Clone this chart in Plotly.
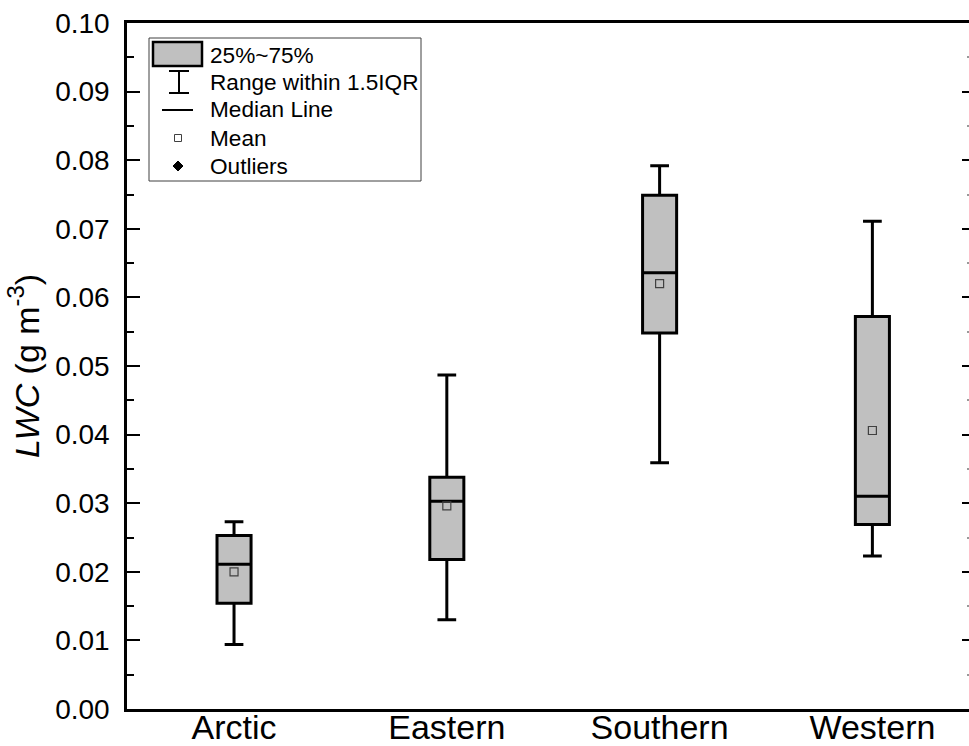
import plotly.graph_objects as go

# ---- data ----
categories = ["Arctic", "Eastern", "Southern", "Western"]
q1_vals = [0.0154, 0.0218, 0.0548, 0.0269]
median_vals = [0.0211, 0.0303, 0.0636, 0.0310]
q3_vals = [0.0253, 0.0338, 0.0749, 0.0572]
lower_whisker = [0.0094, 0.0130, 0.0359, 0.0223]
upper_whisker = [0.0273, 0.0487, 0.0792, 0.0711]
mean_vals = [0.0200, 0.0296, 0.0620, 0.0406]

legend_labels = ["25%~75%", "Range within 1.5IQR", "Median Line", "Mean", "Outliers"]

W, H = 969, 746
ML, MR, MT, MB = 127, 0, 23, 37
PW = W - ML - MR
PH = H - MT - MB
FONT = "Arial, Liberation Sans, sans-serif"
BOXGRAY = "#c0c0c0"

fig = go.Figure()

fig.add_trace(go.Box(
    x=categories,
    q1=q1_vals, median=median_vals, q3=q3_vals,
    lowerfence=lower_whisker, upperfence=upper_whisker,
    boxpoints=False,
    width=0.16,
    whiskerwidth=0.55,
    fillcolor=BOXGRAY,
    line=dict(color="black", width=3),
    showlegend=False,
    name="LWC",
))

fig.add_trace(go.Scatter(
    x=categories, y=mean_vals, mode="markers",
    marker=dict(symbol="square-open", size=8, color="#404040", line=dict(width=1.2)),
    showlegend=False, name="Mean",
))

# invisible helper so the right-hand tick axis is drawn
fig.add_trace(go.Scatter(x=[categories[0]], y=[None], yaxis="y2",
                         showlegend=False, hoverinfo="skip"))

# ---- hand-drawn legend (Origin style) ----
def px(x):
    return (x - ML) / PW

def py(y):
    return (H - MB - y) / PH

shapes = []
annotations = []

shapes.append(dict(type="rect", xref="paper", yref="paper",
                   x0=px(149), x1=px(421), y0=py(181), y1=py(38),
                   line=dict(color="#404040", width=1), fillcolor="white", layer="above"))
shapes.append(dict(type="rect", xref="paper", yref="paper",
                   x0=px(153), x1=px(202), y0=py(66), y1=py(42),
                   line=dict(color="black", width=2.5), fillcolor=BOXGRAY, layer="above"))
for seg in [((179, 71), (179, 93)), ((169, 71), (189, 71)), ((169, 93), (189, 93))]:
    (xa, ya), (xb, yb) = seg
    shapes.append(dict(type="line", xref="paper", yref="paper",
                       x0=px(xa), x1=px(xb), y0=py(ya), y1=py(yb),
                       line=dict(color="black", width=2), layer="above"))
shapes.append(dict(type="line", xref="paper", yref="paper",
                   x0=px(162), x1=px(193), y0=py(110), y1=py(110),
                   line=dict(color="black", width=2), layer="above"))
shapes.append(dict(type="rect", xref="paper", yref="paper",
                   x0=px(174.5), x1=px(181.5), y0=py(141.5), y1=py(134.5),
                   line=dict(color="#404040", width=1), fillcolor="white", layer="above"))
dpath = "M {} {} L {} {} L {} {} L {} {} Z".format(
    px(178), py(161), px(183), py(166), px(178), py(171), px(173), py(166))
shapes.append(dict(type="path", xref="paper", yref="paper", path=dpath,
                   line=dict(color="black", width=1), fillcolor="black", layer="above"))

text_y = [55, 82, 110, 138, 166]
for lab, ty in zip(legend_labels, text_y):
    annotations.append(dict(text=lab, xref="paper", yref="paper",
                            x=px(208), y=py(ty), xanchor="left", yanchor="middle",
                            showarrow=False, font=dict(family=FONT, size=22.6, color="black")))

fig.update_layout(
    width=W, height=H,
    margin=dict(l=ML, r=MR, t=MT, b=MB, pad=0),
    paper_bgcolor="white", plot_bgcolor="white",
    font=dict(family=FONT, color="black"),
    showlegend=False,
    shapes=shapes,
    annotations=annotations,
    xaxis=dict(
        type="category",
        range=[-0.503, 3.454],
        showline=True, linecolor="black", linewidth=2.5, mirror=True,
        ticks="", showgrid=False, zeroline=False,
        tickfont=dict(family=FONT, size=34, color="black"),
        ticklabelstandoff=-14,
    ),
    yaxis=dict(
        range=[0, 0.1],
        dtick=0.01, tickformat=".2f",
        showline=True, linecolor="black", linewidth=2.5,
        ticks="inside", ticklen=13, tickwidth=2, tickcolor="black",
        minor=dict(dtick=0.005, ticks="inside", ticklen=7, tickwidth=2, tickcolor="black"),
        showgrid=False, zeroline=False,
        tickfont=dict(family=FONT, size=28, color="black"),
        ticklabelstandoff=9,
        title=dict(text="<i>LWC</i> (g m<sup>-3</sup>)",
                   font=dict(family=FONT, size=34, color="black"), standoff=6),
        automargin=False,
    ),
    yaxis2=dict(
        range=[0, 0.1], overlaying="y", side="right", anchor="x",
        dtick=0.01, showticklabels=False,
        showline=False, ticks="inside", ticklen=7, tickwidth=2, tickcolor="black",
        minor=dict(dtick=0.005, ticks="inside", ticklen=2, tickwidth=1.5, tickcolor="#999999"),
        showgrid=False, zeroline=False,
    ),
)

post_js = (
    "document.documentElement.style.margin='0px';"
    "document.documentElement.style.overflow='hidden';"
    "document.body.style.margin='0px';"
    "document.body.style.overflow='hidden';"
    "var gd=document.getElementById('{plot_id}');"
    "gd.style.overflow='hidden';"
)

fig.write_html("out.html",
               config={"displayModeBar": False},
               post_script=post_js)
